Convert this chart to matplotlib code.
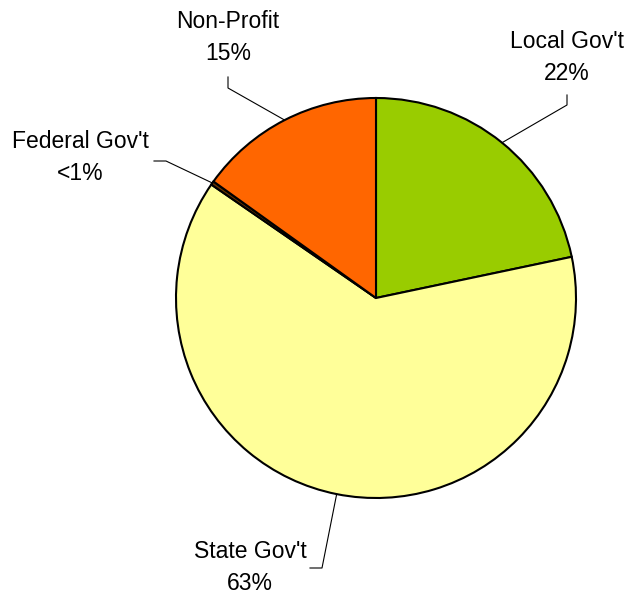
import numpy as np
import matplotlib.pyplot as plt

plt.rcParams['font.family'] = ['Liberation Sans', 'DejaVu Sans']

labels = ["Local Gov't", "State Gov't", "Federal Gov't", "Non-Profit"]
pct_text = ["22%", "63%", "<1%", "15%"]
values = [21.7, 62.9, 0.3, 15.1]
colors = ["#99CC00", "#FFFF99", "#663300", "#FF6600"]

# label text positions (pixels, y measured from top) and leader elbow points
label_pos = [(567, 57), (250, 567), (80, 158), (228, 38)]
elbows = [[(567, 95), (567, 105)], [(310, 568), (322, 568)],
          [(154, 161), (166, 161)], [(228, 77), (228, 88)]]

W, H = 630, 593
fig = plt.figure(figsize=(W / 100, H / 100), dpi=100)
ax = fig.add_axes([0, 0, 1, 1])

cx, cy, r = 376, H - 298, 200
wedges, _ = ax.pie(values, colors=colors, startangle=90, counterclock=False,
                   center=(cx, cy), radius=r, frame=True,
                   wedgeprops=dict(edgecolor='black', linewidth=1.5))
ax.set_xlim(0, W)
ax.set_ylim(0, H)
ax.axis('off')

for w, lab, pct, (tx, ty), el in zip(wedges, labels, pct_text, label_pos, elbows):
    mid = np.deg2rad((w.theta1 + w.theta2) / 2)
    ex, ey = cx + r * np.cos(mid), cy + r * np.sin(mid)
    xs = [p[0] for p in el] + [ex]
    ys = [H - p[1] for p in el] + [ey]
    ax.plot(xs, ys, color='black', lw=0.8)
    ax.text(tx, H - ty, lab + "\n" + pct, ha='center', va='center',
            fontsize=16.5, linespacing=1.5)

fig.savefig("out.png", dpi=100)
